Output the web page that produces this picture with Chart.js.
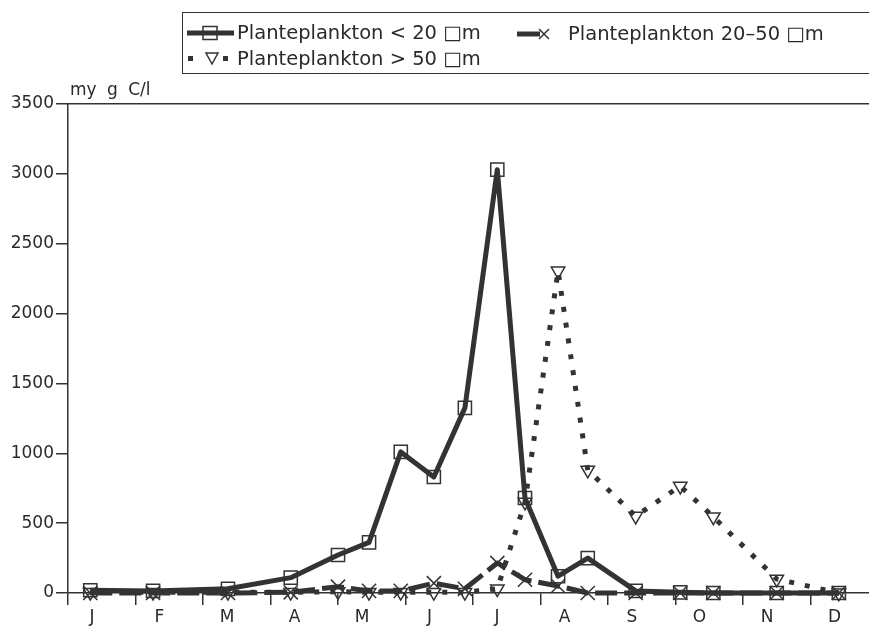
<!DOCTYPE html>
<html>
<head>
<meta charset="utf-8">
<script src="https://cdn.jsdelivr.net/npm/chart.js@4.4.1/dist/chart.umd.min.js"></script>
<style>
  body { margin: 0; background: #fff; overflow: hidden; font-family: "DejaVu Sans", sans-serif; color: #2a2a2a; }
  #wrap { position: relative; width: 890px; height: 630px; }
  #legend { position: absolute; left: 182px; top: 12px; width: 720px; height: 62px; border: 1.5px solid #333; box-sizing: border-box; }
  .lbl { position: absolute; font-size: 19.5px; line-height: 24px; white-space: nowrap; }
  .sym { position: absolute; }
  #unit { position: absolute; left: 70px; top: 79px; font-size: 17px; line-height: 20px; word-spacing: 5px; }
</style>
</head>
<body>
<div id="wrap">
  <canvas id="chart" width="890" height="630"></canvas>
  <div id="legend"></div>
  <svg class="sym" style="left:187px;top:23px" width="47" height="20">
    <line x1="0" y1="10" x2="47" y2="10" stroke="#333" stroke-width="5"/>
    <rect x="16" y="3.5" width="14" height="13" fill="none" stroke="#333" stroke-width="1.5"/>
  </svg>
  <span class="lbl" id="lab0" style="left:237px;top:21px"></span>
  <svg class="sym" style="left:517px;top:24px" width="36" height="20">
    <line x1="0" y1="10" x2="23" y2="10" stroke="#333" stroke-width="5"/>
    <path d="M22 5 L32 15 M22 15 L32 5" stroke="#333" stroke-width="1.5"/>
  </svg>
  <span class="lbl" id="lab1" style="left:568px;top:22px"></span>
  <svg class="sym" style="left:187px;top:48px" width="44" height="20">
    <rect x="1" y="8" width="5" height="5" fill="#333"/>
    <path d="M19 5 L31 5 L25 16 Z" fill="none" stroke="#333" stroke-width="1.5"/>
    <rect x="36" y="8" width="5" height="5" fill="#333"/>
  </svg>
  <span class="lbl" id="lab2" style="left:237px;top:47px"></span>
  <div id="unit">my g C/l</div>
</div>
<script>
const INK = "#333";
const TEXT = "#2a2a2a";

const monthLabels = ["J", "F", "M", "A", "M", "J", "J", "A", "S", "O", "N", "D"];
const seriesNames = [
  "Planteplankton < 20 \u25A1m",
  "Planteplankton 20\u201350 \u25A1m",
  "Planteplankton > 50 \u25A1m",
];

// sampling dates, in months from 1 January
const sampleMonths = [0.33, 1.26, 2.37, 3.3, 4.0, 4.46, 4.93, 5.42, 5.88, 6.36, 6.77, 7.26, 7.7, 8.41, 9.07, 9.56, 10.5, 11.42];

// my g C/l
const small = [20, 15, 30, 110, 272, 362, 1010, 830, 1325, 3030, 680, 120, 250, 15, 5, 0, 0, 0];
const medium = [0, 0, 0, 5, 45, 15, 15, 70, 30, 215, 95, 50, 0, 0, 0, 0, 0, 0];
const large = [5, 5, 5, 5, 10, 5, 5, 5, 5, 30, 650, 2305, 880, 550, 765, 545, 100, 0];

seriesNames.forEach((n, i) => (document.getElementById("lab" + i).textContent = n));

const toPoints = (values) => values.map((v, i) => ({ x: sampleMonths[i], y: v }));

const base = {
  borderColor: INK,
  borderWidth: 5,
  borderJoinStyle: "round",
  pointBorderColor: INK,
  pointBorderWidth: 1.5,
  pointBackgroundColor: "rgba(0,0,0,0)",
  backgroundColor: "rgba(0,0,0,0)",
  tension: 0,
  clip: false,
};

const tickFont = { family: "DejaVu Sans", size: 17 };

new Chart(document.getElementById("chart").getContext("2d"), {
  type: "line",
  data: {
    datasets: [
      { ...base, label: seriesNames[0], data: toPoints(small), pointStyle: "rect", pointRadius: 9.3 },
      { ...base, label: seriesNames[1], data: toPoints(medium), borderDash: [22, 7], pointStyle: "crossRot", pointRadius: 10 },
      {
        ...base,
        label: seriesNames[2],
        data: toPoints(large),
        borderDash: [5, 11],
        borderCapStyle: "butt",
        pointStyle: "triangle",
        rotation: 180,
        pointRadius: 7.8,
      },
    ],
  },
  options: {
    animation: false,
    responsive: false,
    layout: { padding: { left: 10, right: 12, top: 104, bottom: 0 } },
    plugins: { legend: { display: false }, tooltip: { enabled: false } },
    scales: {
      x: {
        type: "linear",
        position: "bottom",
        min: 0,
        max: 12,
        afterFit: (s) => { s.height = 37; },
        ticks: {
          stepSize: 1,
          autoSkip: false,
          maxRotation: 0,
          labelOffset: 24,
          padding: 2,
          color: TEXT,
          font: tickFont,
          callback: (v) => monthLabels[v] ?? "",
        },
        grid: { drawOnChartArea: false, drawTicks: true, tickLength: 12, color: INK, lineWidth: 1.5 },
        border: { color: INK, width: 1.5 },
      },
      top: {
        type: "linear",
        position: "top",
        min: 0,
        max: 12,
        afterFit: (s) => { s.height = 0; },
        ticks: { display: false },
        grid: { display: false },
        border: { display: true, color: INK, width: 1.5 },
      },
      y: {
        type: "linear",
        min: 0,
        max: 3500,
        afterFit: (s) => { s.width = 58; },
        ticks: { stepSize: 500, padding: 2, color: TEXT, font: tickFont, callback: (v) => String(v) },
        grid: { drawOnChartArea: false, drawTicks: true, tickLength: 12, color: INK, lineWidth: 1.5 },
        border: { color: INK, width: 1.5 },
      },
    },
  },
});
</script>
</body>
</html>
